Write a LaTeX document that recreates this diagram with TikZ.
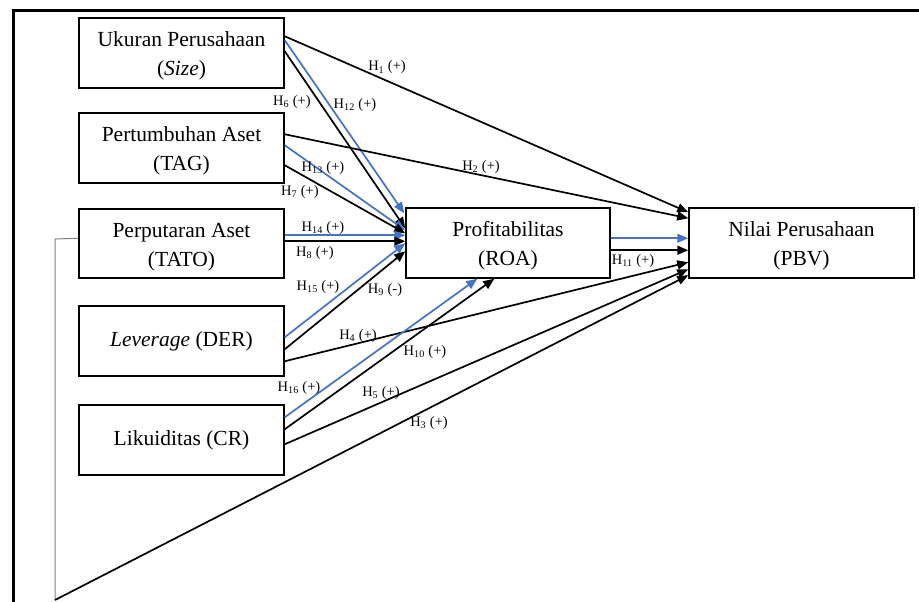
\documentclass[tikz,border=0pt]{standalone}
\usepackage{fontspec}
\setmainfont{Liberation Serif}
\usetikzlibrary{arrows.meta,calc}
\definecolor{hblue}{RGB}{68,114,196}
\newcommand{\hyp}[2]{H\textsubscript{#1}~(#2)}
\newcommand{\fstrut}{\rule{0pt}{21pt}}
\begin{document}
\begin{tikzpicture}[x=1pt,y=-1pt,
  box/.style={draw,line width=1.5pt,inner sep=0pt,align=center,
    minimum width=205pt,minimum height=70pt,
    font=\fontsize{21.5}{29}\selectfont},
  conn/.style={line width=1.7pt,-{Triangle[length=11pt,width=9pt]}},
  bconn/.style={conn,draw=hblue},
  lab/.style={font=\fontsize{14.5}{16}\selectfont,inner sep=0pt},
  fb/.style={draw=gray,line width=1pt}]

\useasboundingbox (0,0) rectangle (919,602);

% outer frame
\draw[line width=3pt,line join=miter] (13,602) -- (13,11) -- (919,11);

% boxes
\node[box] (uk)   at (181.5,53)    {\fstrut Ukuran Perusahaan\\(\textit{Size})};
\node[box] (tag)  at (181.5,148)   {\fstrut Pertumbuhan Aset\\(TAG)};
\node[box,minimum height=69pt] (tato) at (181.5,243.5) {\fstrut Perputaran Aset\\(TATO)};
\node[box] (der)  at (181.5,341)   {\textit{Leverage} (DER)};
\node[box] (cr)   at (181.5,440)   {Likuiditas (CR)};
\node[box,minimum width=204pt] (roa) at (508,243) {\fstrut Profitabilitas\\(ROA)};
\node[box,minimum width=225pt] (pbv) at (801.5,243) {\fstrut Nilai Perusahaan\\(PBV)};

% feedback path
\coordinate (fbtop) at (55,239);
\coordinate (fbbot) at (55,600);
\draw[fb] ($(tato.north west)+(0,30)$) -- (fbtop) -- (fbbot);

% connectors from Ukuran
\draw[conn]  ($(uk.north east)+(0,19)$) -- ($(pbv.north west)+(0,5)$);
\draw[bconn] ($(uk.north east)+(0,23)$) -- ($(roa.north west)+(-1,6)$);
\draw[conn]  ($(uk.north east)+(0,34)$) -- ($(roa.north west)+(0,21)$);
% from TAG
\draw[conn]  ($(tag.north east)+(0,22)$) -- ($(pbv.north west)+(0,11)$);
\draw[bconn] ($(tag.north east)+(0,33)$) -- ($(roa.north west)+(0,23)$);
\draw[conn]  ($(tag.north east)+(0,53)$) -- ($(roa.north west)+(0,26)$);
% from TATO
\draw[bconn] ($(tato.north east)+(0,27)$) -- ($(roa.north west)+(0,28)$);
\draw[conn]  ($(tato.north east)+(0,33)$) -- ($(roa.north west)+(0,34)$);
% from DER
\draw[bconn] ($(der.north east)+(0,32)$) -- ($(roa.north west)+(0,36)$);
\draw[conn]  ($(der.north east)+(0,44)$) -- ($(roa.north west)+(0,44)$);
\draw[conn]  ($(der.north east)+(0,56)$) -- ($(pbv.north west)+(0,55)$);
% from CR
\draw[bconn] ($(cr.north east)+(0,13)$) -- ($(roa.south west)+(72,0)$);
\draw[conn]  ($(cr.north east)+(0,25)$) -- ($(roa.south west)+(89,0)$);
\draw[conn]  ($(cr.north east)+(0,40)$) -- ($(pbv.north west)+(0,62)$);
% H3 from feedback corner
\draw[conn]  (fbbot) -- ($(pbv.north west)+(0,68)$);
% ROA to PBV
\draw[bconn] ($(roa.north east)+(0,31)$) -- ($(pbv.north west)+(0,31)$);
\draw[conn]  ($(roa.north east)+(0,43)$) -- ($(pbv.north west)+(0,43)$);

% labels
\node[lab] (l1)  at (387,67.5) {\hyp{1}{+}};
\node[lab] (l2)  at (481,167)  {\hyp{2}{+}};
\node[lab] (l3)  at (429,423)  {\hyp{3}{+}};
\node[lab] (l4)  at (358,336)  {\hyp{4}{+}};
\node[lab] (l5)  at (381,393)  {\hyp{5}{+}};
\node[lab] (l6)  at (292,102)  {\hyp{6}{+}};
\node[lab] (l7)  at (300,192)  {\hyp{7}{+}};
\node[lab] (l8)  at (315,253)  {\hyp{8}{+}};
\node[lab] (l9)  at (385,290)  {\hyp{9}{-}};
\node[lab] (l10) at (425,352)  {\hyp{10}{+}};
\node[lab] (l11) at (633,261)  {\hyp{11}{+}};
\node[lab] (l12) at (355,105)  {\hyp{12}{+}};
\node[lab] (l13) at (323,168)  {\hyp{13}{+}};
\node[lab] (l14) at (323,228)  {\hyp{14}{+}};
\node[lab] (l15) at (318,287)  {\hyp{15}{+}};
\node[lab] (l16) at (299,388)  {\hyp{16}{+}};
\end{tikzpicture}
\end{document}
